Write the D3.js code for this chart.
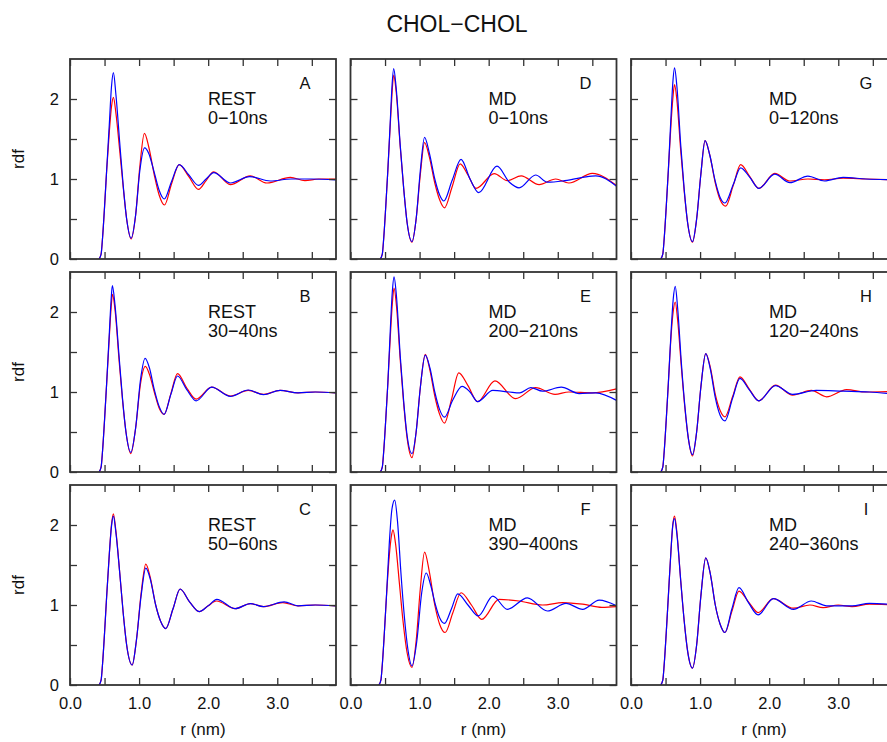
<!DOCTYPE html>
<html>
<head>
<meta charset="utf-8">
<script src="https://cdn.jsdelivr.net/npm/d3@7"></script>
<style>
body { margin: 0; background: #fff; }
text { font-family: "Liberation Sans", Arial, sans-serif; fill: #111; }
</style>
</head>
<body>
<svg id="chart" width="887" height="742"></svg>
<script>
// panel labels, column by column (A,B,C | D,E,F | G,H,I)
const letters = ["A", "B", "C", "D", "E", "F", "G", "H", "I"];
const methods = ["REST", "REST", "REST", "MD", "MD", "MD", "MD", "MD", "MD"];
const windows = ["0\u221210ns", "30\u221240ns", "50\u221260ns", "0\u221210ns", "200\u2212210ns",
                 "390\u2212400ns", "0\u2212120ns", "120\u2212240ns", "240\u2212360ns"];

const xTicks = [0, 0.5, 1, 1.5, 2, 2.5, 3, 3.5];
const xLabels = [0, 1, 2, 3];
const yTicks = [0, 0.5, 1, 1.5, 2];
const yLabels = [0, 1, 2];

// rdf curves, [r (nm), g(r)]
const redA = [[0.42,0],[0.45,0.06],[0.47,0.25],[0.50,0.65],[0.53,1.1],[0.57,1.6],[0.60,1.9],[0.628,2.02],[0.665,1.82],[0.72,1.35],[0.77,0.9],[0.82,0.5],[0.885,0.25],[0.95,0.55],[1.01,1.15],[1.077,1.57],[1.14,1.4],[1.22,1.05],[1.29,0.8],[1.367,0.675],[1.47,0.94],[1.58,1.18],[1.72,1.03],[1.86,0.87],[1.97,0.98],[2.08,1.09],[2.32,0.93],[2.61,1.04],[2.85,0.95],[3.19,1.02],[3.40,0.98],[3.60,1.0],[3.85,1.0]];
const blueA = [[0.42,0],[0.45,0.06],[0.47,0.25],[0.50,0.65],[0.53,1.1],[0.57,1.7],[0.60,2.15],[0.628,2.33],[0.665,2.05],[0.72,1.45],[0.77,0.92],[0.82,0.5],[0.885,0.26],[0.95,0.55],[1.01,1.1],[1.08,1.39],[1.14,1.32],[1.22,1.08],[1.29,0.86],[1.365,0.75],[1.47,0.97],[1.58,1.18],[1.72,1.05],[1.86,0.92],[1.97,1.0],[2.08,1.08],[2.32,0.95],[2.60,1.03],[2.90,0.975],[3.20,1.0],[3.50,1.0],[3.85,0.99]];

const redB = [[0.42,0],[0.45,0.06],[0.47,0.25],[0.50,0.65],[0.53,1.1],[0.57,1.7],[0.595,2.05],[0.615,2.22],[0.655,2.0],[0.71,1.4],[0.76,0.9],[0.81,0.5],[0.88,0.23],[0.95,0.55],[1.02,1.1],[1.09,1.32],[1.15,1.22],[1.22,1.0],[1.29,0.8],[1.362,0.72],[1.46,0.98],[1.556,1.23],[1.69,1.05],[1.826,0.91],[2.05,1.06],[2.32,0.95],[2.58,1.02],[2.80,0.97],[3.04,1.02],[3.30,0.99],[3.55,1.0],[3.85,0.99]];
const blueB = [[0.42,0],[0.45,0.06],[0.47,0.25],[0.50,0.65],[0.53,1.1],[0.57,1.75],[0.595,2.15],[0.613,2.33],[0.65,2.1],[0.71,1.45],[0.76,0.92],[0.81,0.5],[0.88,0.245],[0.95,0.55],[1.02,1.15],[1.087,1.42],[1.15,1.3],[1.22,1.03],[1.29,0.82],[1.362,0.72],[1.46,0.97],[1.556,1.2],[1.69,1.03],[1.826,0.89],[2.05,1.06],[2.32,0.945],[2.58,1.025],[2.80,0.966],[3.04,1.02],[3.30,0.99],[3.55,1.0],[3.85,0.99]];

const redC = [[0.42,0],[0.45,0.06],[0.47,0.25],[0.50,0.65],[0.53,1.1],[0.57,1.65],[0.60,2.0],[0.628,2.14],[0.665,1.92],[0.72,1.4],[0.77,0.9],[0.82,0.5],[0.90,0.25],[0.96,0.55],[1.03,1.15],[1.097,1.51],[1.16,1.35],[1.24,1.0],[1.31,0.8],[1.386,0.705],[1.49,0.95],[1.594,1.2],[1.73,1.04],[1.87,0.917],[2.00,0.99],[2.12,1.05],[2.39,0.954],[2.61,1.017],[2.80,0.98],[3.08,1.03],[3.30,0.99],[3.55,1.0],[3.85,0.99]];
const blueC = [[0.42,0],[0.45,0.06],[0.47,0.25],[0.50,0.65],[0.53,1.1],[0.57,1.65],[0.60,1.98],[0.628,2.11],[0.665,1.9],[0.72,1.4],[0.77,0.9],[0.82,0.5],[0.90,0.25],[0.96,0.55],[1.03,1.12],[1.097,1.46],[1.16,1.33],[1.24,1.0],[1.31,0.8],[1.386,0.705],[1.49,0.95],[1.594,1.2],[1.73,1.04],[1.87,0.917],[2.00,0.99],[2.125,1.07],[2.39,0.954],[2.61,1.017],[2.80,0.98],[3.10,1.04],[3.30,0.99],[3.55,1.0],[3.85,0.99]];

const redD = [[0.43,0],[0.46,0.06],[0.48,0.25],[0.51,0.65],[0.54,1.1],[0.58,1.75],[0.60,2.05],[0.625,2.30],[0.66,2.1],[0.72,1.4],[0.77,0.88],[0.82,0.45],[0.89,0.21],[0.95,0.5],[1.01,1.05],[1.072,1.455],[1.14,1.28],[1.22,0.95],[1.29,0.74],[1.36,0.64],[1.47,0.9],[1.587,1.19],[1.70,1.05],[1.817,0.883],[2.08,1.067],[2.27,0.98],[2.47,1.04],[2.73,0.93],[2.97,1.0],[3.16,0.95],[3.50,1.07],[3.85,0.92]];
const blueD = [[0.43,0],[0.46,0.06],[0.48,0.25],[0.51,0.65],[0.54,1.1],[0.58,1.8],[0.60,2.15],[0.625,2.38],[0.66,2.15],[0.72,1.42],[0.77,0.88],[0.82,0.45],[0.89,0.217],[0.95,0.5],[1.01,1.1],[1.072,1.52],[1.14,1.33],[1.22,1.0],[1.29,0.8],[1.351,0.725],[1.47,0.98],[1.60,1.246],[1.73,1.0],[1.856,0.83],[2.12,1.16],[2.30,0.96],[2.44,0.89],[2.68,1.05],[2.85,0.96],[3.07,0.975],[3.36,1.02],[3.55,1.04],[3.85,0.91]];

const redE = [[0.43,0],[0.46,0.06],[0.48,0.25],[0.51,0.65],[0.54,1.1],[0.58,1.75],[0.605,2.1],[0.63,2.30],[0.665,2.08],[0.72,1.4],[0.77,0.85],[0.82,0.42],[0.89,0.18],[0.95,0.5],[1.01,1.05],[1.082,1.47],[1.15,1.27],[1.22,0.95],[1.29,0.72],[1.36,0.61],[1.46,0.9],[1.567,1.24],[1.70,1.08],[1.84,0.88],[2.09,1.14],[2.39,0.916],[2.68,1.055],[2.96,0.97],[3.16,1.0],[3.50,0.99],[3.85,1.04]];
const blueE = [[0.43,0],[0.46,0.06],[0.48,0.25],[0.51,0.65],[0.54,1.1],[0.58,1.85],[0.605,2.25],[0.63,2.44],[0.665,2.2],[0.72,1.45],[0.77,0.88],[0.82,0.45],[0.89,0.23],[0.95,0.5],[1.01,1.05],[1.082,1.46],[1.15,1.3],[1.22,1.0],[1.29,0.78],[1.36,0.685],[1.48,0.9],[1.615,1.07],[1.73,1.0],[1.84,0.88],[2.06,1.02],[2.30,1.0],[2.45,0.99],[2.61,1.055],[2.78,1.01],[3.05,1.06],[3.31,0.98],[3.55,0.99],[3.85,0.895]];

const redF = [[0.41,0],[0.44,0.06],[0.46,0.25],[0.49,0.65],[0.52,1.1],[0.56,1.6],[0.59,1.85],[0.615,1.94],[0.65,1.78],[0.71,1.25],[0.76,0.8],[0.82,0.4],[0.89,0.22],[0.95,0.55],[1.01,1.2],[1.072,1.66],[1.14,1.42],[1.22,1.0],[1.29,0.76],[1.37,0.656],[1.48,0.9],[1.60,1.153],[1.75,1.0],[1.90,0.82],[2.15,1.07],[2.44,1.05],[2.78,1.0],[3.07,1.03],[3.36,1.01],[3.64,0.97],[3.85,0.98]];
const blueF = [[0.41,0],[0.44,0.06],[0.46,0.25],[0.49,0.65],[0.52,1.1],[0.56,1.75],[0.60,2.2],[0.64,2.31],[0.68,2.05],[0.73,1.4],[0.78,0.85],[0.83,0.45],[0.89,0.24],[0.96,0.55],[1.03,1.15],[1.096,1.40],[1.16,1.25],[1.23,1.0],[1.29,0.84],[1.36,0.77],[1.46,0.95],[1.553,1.14],[1.70,1.0],[1.85,0.863],[2.06,1.11],[2.27,0.946],[2.56,1.09],[2.85,0.925],[3.12,1.02],[3.36,0.946],[3.60,1.06],[3.85,0.99]];

const redG = [[0.43,0],[0.46,0.06],[0.48,0.25],[0.51,0.65],[0.54,1.1],[0.58,1.7],[0.605,2.0],[0.63,2.18],[0.665,1.98],[0.72,1.35],[0.77,0.85],[0.82,0.45],[0.89,0.21],[0.95,0.5],[1.01,1.05],[1.072,1.48],[1.14,1.3],[1.22,0.95],[1.29,0.74],[1.37,0.66],[1.48,0.92],[1.587,1.18],[1.72,1.03],[1.85,0.883],[2.08,1.07],[2.30,0.975],[2.56,1.0],[2.80,0.99],[3.07,1.01],[3.40,1.0],[3.85,0.99]];
const blueG = [[0.43,0],[0.46,0.06],[0.48,0.25],[0.51,0.65],[0.54,1.1],[0.58,1.8],[0.605,2.2],[0.63,2.39],[0.665,2.15],[0.72,1.42],[0.77,0.87],[0.82,0.45],[0.89,0.217],[0.95,0.5],[1.01,1.05],[1.072,1.48],[1.14,1.3],[1.22,0.97],[1.29,0.77],[1.36,0.70],[1.48,0.93],[1.587,1.14],[1.72,1.02],[1.85,0.883],[2.08,1.06],[2.30,0.954],[2.56,1.037],[2.80,0.975],[3.07,1.02],[3.40,1.0],[3.85,0.99]];

const redH = [[0.43,0],[0.46,0.06],[0.48,0.25],[0.51,0.65],[0.54,1.1],[0.58,1.7],[0.61,2.0],[0.64,2.125],[0.675,1.9],[0.73,1.3],[0.78,0.8],[0.83,0.42],[0.89,0.2],[0.95,0.5],[1.01,1.05],[1.082,1.48],[1.15,1.3],[1.22,0.97],[1.29,0.77],[1.36,0.69],[1.47,0.94],[1.577,1.19],[1.71,1.04],[1.85,0.89],[2.09,1.085],[2.34,0.96],[2.61,1.02],[2.83,0.94],[3.12,1.03],[3.40,1.0],[3.85,1.01]];
const blueH = [[0.43,0],[0.46,0.06],[0.48,0.25],[0.51,0.65],[0.54,1.1],[0.58,1.75],[0.61,2.15],[0.64,2.32],[0.675,2.05],[0.73,1.35],[0.78,0.82],[0.83,0.42],[0.89,0.217],[0.95,0.5],[1.01,1.05],[1.082,1.48],[1.15,1.28],[1.22,0.93],[1.29,0.71],[1.36,0.64],[1.47,0.92],[1.577,1.17],[1.71,1.03],[1.85,0.89],[2.09,1.08],[2.34,0.97],[2.68,1.02],[3.07,1.01],[3.45,1.0],[3.85,0.97]];

const redI = [[0.43,0],[0.46,0.06],[0.48,0.25],[0.51,0.65],[0.54,1.1],[0.58,1.7],[0.605,2.0],[0.63,2.11],[0.665,1.9],[0.72,1.3],[0.77,0.8],[0.82,0.42],[0.89,0.21],[0.95,0.5],[1.01,1.1],[1.082,1.59],[1.15,1.38],[1.22,1.0],[1.29,0.76],[1.36,0.656],[1.46,0.92],[1.563,1.174],[1.70,1.04],[1.84,0.905],[2.06,1.08],[2.35,0.96],[2.59,1.0],[2.78,0.967],[3.00,1.0],[3.20,0.98],[3.45,1.01],[3.85,1.0]];
const blueI = [[0.43,0],[0.46,0.06],[0.48,0.25],[0.51,0.65],[0.54,1.1],[0.58,1.7],[0.605,2.0],[0.63,2.08],[0.665,1.88],[0.72,1.3],[0.77,0.8],[0.82,0.42],[0.89,0.21],[0.95,0.5],[1.01,1.1],[1.082,1.59],[1.15,1.38],[1.22,1.0],[1.29,0.76],[1.36,0.656],[1.46,0.95],[1.563,1.216],[1.70,1.03],[1.84,0.876],[2.06,1.08],[2.35,0.946],[2.61,1.05],[2.83,0.99],[3.20,0.99],[3.45,1.02],[3.85,1.0]];

const redSeries = [redA, redB, redC, redD, redE, redF, redG, redH, redI];
const blueSeries = [blueA, blueB, blueC, blueD, blueE, blueF, blueG, blueH, blueI];

const panelW = 266, panelH = 200;
const colLefts = [70, 350.5, 631];
const rowTops = [59, 272, 485];
const tickLen = 7;

const svg = d3.select("#chart");

const x = d3.scaleLinear().domain([0, 3.85]).range([0, panelW]);
const y = d3.scaleLinear().domain([0, 2.5]).range([panelH, 0]);

const line = d3.line()
    .x(function(d) { return x(d[0]); })
    .y(function(d) { return y(d[1]); })
    .curve(d3.curveMonotoneX);

svg.append("text")
    .attr("x", 457).attr("y", 32)
    .attr("text-anchor", "middle")
    .style("font-size", "23px")
    .text("CHOL\u2212CHOL");

function styleAxis(g) {
    g.select(".domain").remove();
    g.selectAll(".tick line").attr("stroke", "#333").attr("stroke-width", 1.3);
    g.selectAll(".tick text").style("font-size", "16.5px").attr("fill", "#111")
        .style("font-family", "'Liberation Sans', Arial, sans-serif");
}

for (let i = 0; i < 9; i++) {
    let col = Math.floor(i / 3);
    let row = i % 3;
    let panel = svg.append("g")
        .attr("transform", "translate(" + colLefts[col] + "," + rowTops[row] + ")");

    panel.append("clipPath").attr("id", "clip" + i)
        .append("rect").attr("width", panelW).attr("height", panelH);

    let plot = panel.append("g").attr("clip-path", "url(#clip" + i + ")");
    plot.append("path").datum(redSeries[i])
        .attr("d", line).attr("fill", "none")
        .attr("stroke", "#ff0000").attr("stroke-width", 1.2);
    plot.append("path").datum(blueSeries[i])
        .attr("d", line).attr("fill", "none")
        .attr("stroke", "#0000ff").attr("stroke-width", 1.2);

    // inward ticks on all four sides
    panel.append("g").attr("transform", "translate(0," + panelH + ")")
        .call(d3.axisBottom(x).tickValues(xTicks).tickSizeInner(-tickLen).tickSizeOuter(0).tickPadding(12)
            .tickFormat(function(d) { return (row === 2 && xLabels.indexOf(d) >= 0) ? d.toFixed(1) : ""; }))
        .call(styleAxis);
    panel.append("g")
        .call(d3.axisTop(x).tickValues(xTicks).tickSizeInner(-tickLen).tickSizeOuter(0).tickFormat(""))
        .call(styleAxis);
    panel.append("g")
        .call(d3.axisLeft(y).tickValues(yTicks).tickSizeInner(-tickLen).tickSizeOuter(0).tickPadding(11)
            .tickFormat(function(d) { return (col === 0 && yLabels.indexOf(d) >= 0) ? d : ""; }))
        .call(styleAxis);
    panel.append("g").attr("transform", "translate(" + panelW + ",0)")
        .call(d3.axisRight(y).tickValues(yTicks).tickSizeInner(-tickLen).tickSizeOuter(0).tickFormat(""))
        .call(styleAxis);

    panel.append("rect")
        .attr("width", panelW).attr("height", panelH)
        .attr("fill", "none").attr("stroke", "#333").attr("stroke-width", 1.8);

    panel.append("text")
        .attr("x", 235).attr("y", 30)
        .attr("text-anchor", "middle")
        .style("font-size", "16.5px")
        .text(letters[i]);
    panel.append("text")
        .attr("x", 138).attr("y", 46)
        .style("font-size", "18px")
        .text(methods[i]);
    panel.append("text")
        .attr("x", 138).attr("y", 64.5)
        .style("font-size", "18px")
        .text(windows[i]);

    if (col === 0) {
        svg.append("text")
            .attr("transform", "translate(24," + (rowTops[row] + panelH / 2) + ") rotate(-90)")
            .attr("text-anchor", "middle")
            .style("font-size", "17px")
            .text("rdf");
    }
    if (row === 2) {
        svg.append("text")
            .attr("x", colLefts[col] + panelW / 2).attr("y", 735)
            .attr("text-anchor", "middle")
            .style("font-size", "17px")
            .text("r (nm)");
    }
}
</script>
</body>
</html>
